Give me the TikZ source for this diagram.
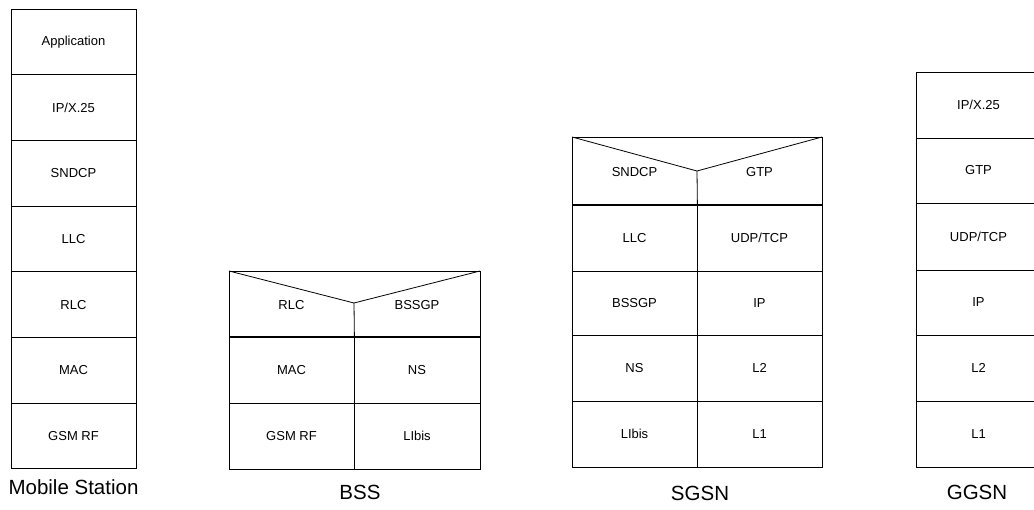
\documentclass[tikz,border=0pt]{standalone}
\usepackage{fontspec}
\setmainfont{Liberation Sans}
\begin{document}
\begin{tikzpicture}[x=1pt,y=-1pt,
  cell/.style={draw=black, line width=0.8pt, minimum width=125pt, minimum height=66pt, inner sep=0pt, font=\fontsize{13}{15}\selectfont},
  celltext/.style={inner sep=0pt, font=\fontsize{13}{15}\selectfont},
  outline/.style={draw=black, line width=0.8pt, line join=miter},
  caption/.style={inner sep=0pt, font=\fontsize{20.5}{24}\selectfont}]
\useasboundingbox (0,0) rectangle (1034,510);
\clip (0,0) rectangle (1034,510);
% Mobile Station
\node[cell, minimum height=65.7pt] (ms1) at (73.5,41.85) {Application};
\node[cell, minimum height=65.7pt] (ms2) at (73.5,107.55) {IP/X.25};
\node[cell, minimum height=65.7pt] (ms3) at (73.5,173.25) {SNDCP};
\node[cell, minimum height=65.7pt] (ms4) at (73.5,238.95) {LLC};
\node[cell, minimum height=65.7pt] (ms5) at (73.5,304.65) {RLC};
\node[cell, minimum height=65.7pt] (ms6) at (73.5,370.35) {MAC};
\node[cell, minimum height=65.7pt] (ms7) at (73.5,436.05) {GSM RF};
\node[caption] (msl) at (73.5,487) {Mobile Station};
% BSS
\coordinate (bssTL) at (229,271);
\coordinate (bssV) at (354,303);
\coordinate (bssTR) at (480,271);
\node[cell] (bss3a) at (291.5,370) {MAC};
\node[cell, minimum width=126pt] (bss3b) at (417,370) {NS};
\node[cell] (bss4a) at (291.5,436) {GSM RF};
\node[cell, minimum width=126pt] (bss4b) at (417,436) {LIbis};
\node[celltext] (bss1a) at (291.5,305) {RLC};
\node[celltext] (bss1b) at (417,305) {BSSGP};
\draw[outline] (bssTL) rectangle (bss3b.north east);
\draw[outline] (bssTL) -- (bssV) -- (bssTR);
\draw[outline] (bssV) -- (bss3a.north east);
\node[caption] (bssl) at (360,492) {BSS};
% SGSN
\coordinate (sgTL) at (572,137);
\coordinate (sgV) at (697,171);
\coordinate (sgTR) at (822,137);
\node[celltext] (sg1a) at (634.5,172) {SNDCP};
\node[celltext] (sg1b) at (759.5,172) {GTP};
\node[cell] (sg2a) at (634.5,238) {LLC};
\node[cell] (sg2b) at (759.5,238) {UDP/TCP};
\node[cell, minimum height=64pt] (sg3a) at (634.5,303) {BSSGP};
\node[cell, minimum height=64pt] (sg3b) at (759.5,303) {IP};
\node[cell] (sg4a) at (634.5,368) {NS};
\node[cell] (sg4b) at (759.5,368) {L2};
\node[cell] (sg5a) at (634.5,434) {LIbis};
\node[cell] (sg5b) at (759.5,434) {L1};
\draw[outline] (sgTL) rectangle (sg2b.north east);
\draw[outline] (sgTL) -- (sgV) -- (sgTR);
\draw[outline] (sgV) -- (sg2a.north east);
\node[caption] (sgl) at (700,493) {SGSN};
% GGSN
\node[cell] (gg1) at (978.5,105) {IP/X.25};
\node[cell, minimum height=65pt] (gg2) at (978.5,170.5) {GTP};
\node[cell, minimum height=67pt] (gg3) at (978.5,236.5) {UDP/TCP};
\node[cell, minimum height=65pt] (gg4) at (978.5,302.5) {IP};
\node[cell] (gg5) at (978.5,368) {L2};
\node[cell] (gg6) at (978.5,434) {L1};
\node[caption] (ggl) at (977,492) {GGSN};
\end{tikzpicture}
\end{document}
